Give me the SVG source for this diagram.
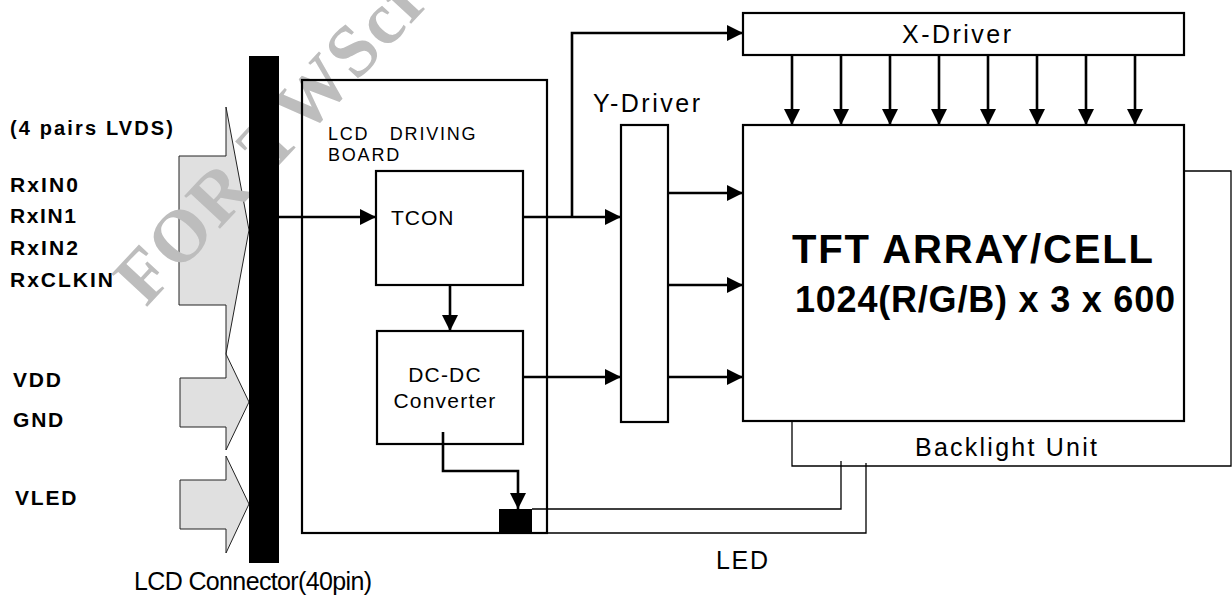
<svg xmlns="http://www.w3.org/2000/svg" width="1232" height="596" viewBox="0 0 1232 596">
<defs>
<style>
.t{font-family:"Liberation Sans",Arial,sans-serif;fill:#000}
.b{font-weight:bold}
.box{fill:none;stroke:#000;stroke-width:2.2}
.ln{fill:none;stroke:#000;stroke-width:2.6}
.thin{fill:none;stroke:#000;stroke-width:1.3}
.big{fill:#e0e0e0;stroke:#222;stroke-width:1}
</style>
<marker id="ah" markerUnits="userSpaceOnUse" viewBox="0 0 16 16" refX="16" refY="8" markerWidth="16" markerHeight="16" orient="auto">
<path d="M0,0 L16,8 L0,16 Z" fill="#000"/>
</marker>
</defs>
<rect width="1232" height="596" fill="#fff"/>

<g id="inputs">
<path class="big" d="M179,156 H226 V107 L249,230 L226,354 V305 H179 Z"/>
<path class="big" d="M180,378 H226 V354 L249,402 L226,450 V427 H180 Z"/>
<path class="big" d="M180,480 H226 V456 L249,504 L226,553 V529 H180 Z"/>
<text class="t b" x="10" y="135" font-size="20" textLength="163">(4 pairs LVDS)</text>
<text class="t b" x="10" y="192" font-size="21" textLength="68">RxIN0</text>
<text class="t b" x="10" y="223" font-size="21" textLength="66">RxIN1</text>
<text class="t b" x="10" y="255" font-size="21" textLength="68">RxIN2</text>
<text class="t b" x="10" y="287" font-size="21" textLength="103">RxCLKIN</text>
<text class="t b" x="13" y="387" font-size="21" letter-spacing="1.8">VDD</text>
<text class="t b" x="13" y="427" font-size="21" letter-spacing="1.8">GND</text>
<text class="t b" x="15" y="505" font-size="21" letter-spacing="1.8">VLED</text>
</g>

<text x="146" y="308" transform="rotate(-47 146 308)" font-family="'Liberation Serif',serif" font-weight="bold" font-size="74" letter-spacing="2" fill="#bdbdbd">FOR TWScreen</text>

<g id="connector">
<rect x="249" y="56" width="30" height="507" fill="#000"/>
<text class="t" x="134" y="590" font-size="25" textLength="238">LCD Connector(40pin)</text>
</g>

<g id="board">
<rect class="box" x="302" y="80" width="245" height="453"/>
<text class="t" font-size="18" letter-spacing="1.8" xml:space="preserve"><tspan x="328" y="140">LCD   DRIVING</tspan><tspan x="328" y="161">BOARD</tspan></text>
</g>

<g id="tcon">
<rect class="box" x="376" y="171" width="147" height="114"/>
<text class="t" x="391" y="225" font-size="21" letter-spacing="1">TCON</text>
</g>

<g id="dcdc">
<rect class="box" x="377" y="331" width="146" height="113"/>
<text class="t" x="445" y="382" font-size="21" text-anchor="middle" letter-spacing="1.2">DC-DC</text>
<text class="t" x="445" y="408" font-size="21" text-anchor="middle" letter-spacing="1.2">Converter</text>
</g>

<g id="ydriver">
<rect class="box" x="621" y="125" width="47" height="297"/>
<text class="t" x="593" y="112" font-size="25" textLength="107">Y-Driver</text>
</g>

<g id="xdriver">
<rect class="box" x="743" y="13" width="441" height="42"/>
<text class="t" x="902" y="43" font-size="25" textLength="109">X-Driver</text>
</g>

<g id="backlight">
<path class="thin" d="M1184,171 H1231 V466 H792 V421"/>
<text class="t" x="915" y="456" font-size="25" textLength="182">Backlight Unit</text>
</g>

<g id="tft">
<rect class="box" x="743" y="125" width="441" height="296"/>
<text class="t b" x="792" y="263" font-size="40" textLength="361">TFT ARRAY/CELL</text>
<text class="t b" x="795" y="312" font-size="36" textLength="380">1024(R/G/B) x 3 x 600</text>
</g>

<g id="led">
<rect x="499" y="509" width="33" height="24" fill="#000"/>
<text class="t" x="716" y="569" font-size="25" textLength="52">LED</text>
</g>

<g id="connectors">
<path class="ln" d="M279,217 H376" marker-end="url(#ah)"/>
<path class="ln" d="M523,217 H621" marker-end="url(#ah)"/>
<path class="ln" d="M572,217 V33 H743" marker-end="url(#ah)"/>
<path class="ln" d="M450,285 V331" marker-end="url(#ah)"/>
<path class="ln" d="M523,377 H621" marker-end="url(#ah)"/>
<path class="ln" d="M668,193 H743" marker-end="url(#ah)"/>
<path class="ln" d="M668,285 H743" marker-end="url(#ah)"/>
<path class="ln" d="M668,377 H743" marker-end="url(#ah)"/>
<path class="ln" d="M792,55 V125" marker-end="url(#ah)"/>
<path class="ln" d="M841,55 V125" marker-end="url(#ah)"/>
<path class="ln" d="M890,55 V125" marker-end="url(#ah)"/>
<path class="ln" d="M939,55 V125" marker-end="url(#ah)"/>
<path class="ln" d="M988,55 V125" marker-end="url(#ah)"/>
<path class="ln" d="M1037,55 V125" marker-end="url(#ah)"/>
<path class="ln" d="M1086,55 V125" marker-end="url(#ah)"/>
<path class="ln" d="M1135,55 V125" marker-end="url(#ah)"/>
<path class="ln" d="M443,432 V471 H518 V509" marker-end="url(#ah)"/>
<path class="thin" d="M532,509 H841 V461"/>
<path class="thin" d="M532,533 H866 V463"/>
</g>
</svg>
